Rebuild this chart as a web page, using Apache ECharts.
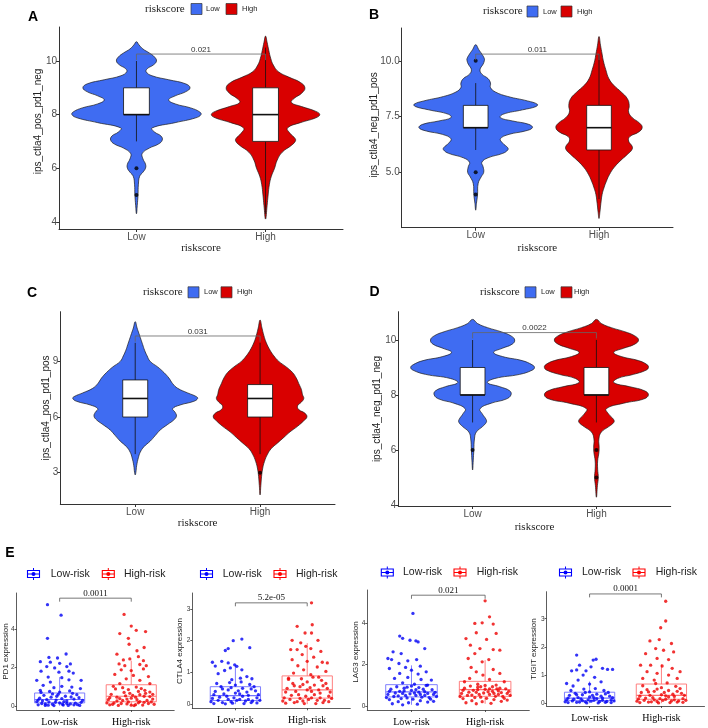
<!DOCTYPE html>
<html><head><meta charset="utf-8">
<script src="https://cdn.jsdelivr.net/npm/echarts@6/dist/echarts.min.js"></script>
<style>html,body{margin:0;padding:0;background:#fff}#c{width:708px;height:728px}</style>
</head><body><div id="c"></div><script>
// ---------------- DATA ----------------
const riskGroups = ['Low', 'High'];
const expGroups = ['Low-risk', 'High-risk'];
const panelLetters = ['A', 'B', 'C', 'D', 'E'];
const violinTitles = ['ips_ctla4_pos_pd1_neg', 'ips_ctla4_neg_pd1_pos', 'ips_ctla4_pos_pd1_pos', 'ips_ctla4_neg_pd1_neg'];
const expTitles = ['PD1 expression', 'CTLA4 expression', 'LAG3 expression', 'TIGIT expression'];

const aTicks = [4, 6, 8, 10];
const bTicks = [5, 7.5, 10];
const cTicks = [3, 6, 9];
const dTicks = [4, 6, 8, 10];
const e1Ticks = [0, 2, 4];
const e2Ticks = [0, 1, 2, 3];
const e3Ticks = [0, 2, 4];
const e4Ticks = [0, 1, 2, 3];

// violin profiles: [score, half-width in category units], bottom to top
const aLowViolin = [[4.3,0],[4.6,0.006],[5.0,0.012],[5.4,0.015],[5.7,0.025],[5.85,0.05],[6.0,0.07],[6.15,0.07],[6.35,0.05],[6.55,0.045],[6.75,0.1],[6.9,0.17],[7.05,0.2],[7.2,0.19],[7.35,0.14],[7.5,0.12],[7.7,0.3],[7.88,0.46],[8.0,0.5],[8.1,0.49],[8.25,0.42],[8.4,0.3],[8.55,0.25],[8.7,0.3],[8.85,0.38],[9.0,0.415],[9.15,0.38],[9.3,0.25],[9.45,0.12],[9.6,0.075],[9.72,0.085],[9.85,0.13],[10.0,0.155],[10.15,0.14],[10.3,0.1],[10.45,0.05],[10.6,0.02],[10.72,0]];
const aHighViolin = [[4.1,0],[4.6,0.012],[5.0,0.02],[5.4,0.03],[5.7,0.045],[6.0,0.07],[6.3,0.09],[6.6,0.13],[6.85,0.2],[7.0,0.23],[7.1,0.23],[7.3,0.19],[7.5,0.17],[7.7,0.27],[7.88,0.39],[8.0,0.42],[8.12,0.39],[8.3,0.28],[8.45,0.2],[8.6,0.22],[8.8,0.28],[9.0,0.305],[9.2,0.27],[9.4,0.18],[9.6,0.1],[9.85,0.06],[10.1,0.04],[10.4,0.025],[10.7,0.012],[10.93,0]];
const bLowViolin = [[3.3,0],[3.6,0.006],[4.0,0.015],[4.5,0.02],[4.8,0.045],[5.0,0.065],[5.25,0.06],[5.45,0.05],[5.65,0.1],[5.85,0.22],[6.0,0.26],[6.1,0.26],[6.3,0.22],[6.5,0.2],[6.7,0.27],[6.85,0.4],[7.0,0.46],[7.15,0.43],[7.3,0.3],[7.45,0.2],[7.6,0.22],[7.8,0.38],[7.95,0.49],[8.05,0.5],[8.2,0.42],[8.4,0.26],[8.6,0.16],[8.8,0.12],[9.0,0.12],[9.2,0.1],[9.4,0.05],[9.6,0.035],[9.85,0.06],[10.0,0.07],[10.1,0.07],[10.3,0.05],[10.5,0.025],[10.72,0]];
const bHighViolin = [[2.93,0],[3.2,0.007],[3.6,0.015],[4.0,0.025],[4.3,0.04],[4.6,0.06],[4.9,0.085],[5.2,0.12],[5.5,0.17],[5.8,0.23],[6.0,0.265],[6.15,0.27],[6.4,0.24],[6.6,0.25],[6.8,0.32],[7.0,0.35],[7.2,0.33],[7.45,0.27],[7.7,0.24],[8.0,0.245],[8.3,0.23],[8.6,0.18],[8.9,0.12],[9.2,0.08],[9.6,0.055],[10.0,0.035],[10.3,0.025],[10.7,0.012],[11.09,0]];
const cLowViolin = [[2.88,0],[3.0,0.005],[3.4,0.012],[3.8,0.025],[4.1,0.04],[4.4,0.07],[4.7,0.12],[5.0,0.16],[5.3,0.2],[5.6,0.26],[5.85,0.31],[6.05,0.33],[6.25,0.32],[6.45,0.3],[6.65,0.36],[6.85,0.47],[7.0,0.5],[7.1,0.49],[7.3,0.42],[7.55,0.34],[7.8,0.3],[8.1,0.27],[8.4,0.23],[8.7,0.18],[9.0,0.12],[9.3,0.095],[9.6,0.075],[9.9,0.06],[10.2,0.045],[10.5,0.03],[10.8,0.015],[11.14,0]];
const cHighViolin = [[1.8,0],[2.3,0.006],[2.8,0.012],[3.2,0.02],[3.6,0.035],[4.0,0.06],[4.3,0.09],[4.6,0.14],[4.9,0.19],[5.2,0.24],[5.5,0.3],[5.8,0.35],[6.0,0.375],[6.2,0.36],[6.4,0.31],[6.6,0.3],[6.8,0.33],[7.0,0.35],[7.2,0.34],[7.5,0.33],[7.8,0.31],[8.1,0.29],[8.4,0.26],[8.7,0.21],[9.0,0.15],[9.3,0.11],[9.6,0.08],[10.0,0.05],[10.4,0.03],[10.8,0.015],[11.23,0]];
const dLowViolin = [[5.27,0],[5.6,0.005],[6.0,0.01],[6.4,0.015],[6.65,0.03],[6.85,0.08],[7.0,0.11],[7.1,0.11],[7.3,0.08],[7.5,0.06],[7.7,0.15],[7.85,0.27],[8.0,0.31],[8.15,0.3],[8.3,0.22],[8.45,0.12],[8.6,0.18],[8.75,0.38],[8.9,0.48],[9.0,0.5],[9.1,0.48],[9.25,0.4],[9.4,0.24],[9.55,0.17],[9.7,0.24],[9.85,0.32],[10.0,0.34],[10.15,0.31],[10.3,0.23],[10.45,0.12],[10.6,0.04],[10.75,0]];
const dHighViolin = [[4.28,0],[4.7,0.008],[5.0,0.015],[5.3,0.01],[5.6,0.01],[5.9,0.02],[6.1,0.022],[6.4,0.02],[6.65,0.04],[6.85,0.1],[7.0,0.14],[7.1,0.14],[7.3,0.1],[7.5,0.08],[7.7,0.22],[7.85,0.38],[8.0,0.42],[8.15,0.39],[8.3,0.27],[8.45,0.14],[8.6,0.17],[8.75,0.3],[8.9,0.4],[9.0,0.42],[9.1,0.41],[9.25,0.34],[9.4,0.2],[9.55,0.14],[9.7,0.22],[9.85,0.31],[10.0,0.34],[10.15,0.31],[10.3,0.23],[10.45,0.12],[10.6,0.04],[10.75,0]];

// boxes: [lower whisker, q1, median, q3, upper whisker]
const aLowBox = [7, 8, 8, 9, 10];
const aHighBox = [4.3, 7, 8, 9, 10.5];
const bLowBox = [6, 7, 7, 8, 9];
const bHighBox = [3.8, 6, 7, 8, 10.3];
const cLowBox = [4, 6, 7, 8, 10];
const cHighBox = [4, 6, 7, 7.75, 10];
const dLowBox = [7, 8, 8, 9, 10];
const dHighBox = [7, 8, 8, 9, 10];

const aLowOutliers = [6, 5];
const aHighOutliers = [];
const bLowOutliers = [10, 5, 4];
const bHighOutliers = [];
const cLowOutliers = [];
const cHighOutliers = [3];
const dLowOutliers = [6];
const dHighOutliers = [6, 5];

const violinPValues = ['0.021', '0.011', '0.031', '0.0022'];
const violinBracketY = [10.26, 10.3, 10.37, 10.27];

const e1LowBox = [0, 0.155, 0.33, 0.67, 1.5];
const e1HighBox = [0, 0.21, 0.5, 1.1, 2.36];
const e2LowBox = [0, 0.115, 0.27, 0.55, 1.2];
const e2HighBox = [0, 0.19, 0.45, 0.89, 1.92];
const e3LowBox = [0.05, 0.43, 0.67, 1.02, 1.95];
const e3HighBox = [0.1, 0.46, 0.78, 1.18, 2.2];
const e4LowBox = [0, 0.09, 0.18, 0.39, 0.77];
const e4HighBox = [0, 0.14, 0.28, 0.68, 1.38];

const expPValues = ['0.0011', '5.2e-05', '0.021', '0.0001'];
const expBracketY = [5.63, 3.19, 5.33, 3.88];

// jittered points: [horizontal jitter, expression]
const e1LowPoints = [[-0.17,5.29],[0.02,4.74],[-0.17,3.53],[0.09,2.71],[-0.15,2.53],[-0.03,2.5],[-0.27,2.31],[-0.13,2.28],[0.0,2.22],[0.15,2.19],[-0.18,2.05],[-0.07,1.98],[0.1,2.05],[-0.26,1.81],[-0.01,1.76],[0.13,1.81],[0.19,1.71],[-0.16,1.5],[0.03,1.47],[-0.32,1.33],[-0.13,1.24],[0.13,1.36],[0.3,1.33],[-0.23,1.07],[0.03,1.02],[0.17,0.98],[-0.08,0.95],[0.29,0.9],[-0.27,0.81],
[-0.3,0.05],[-0.25,0.12],[-0.2,0.02],[-0.15,0.2],[-0.1,0.08],[-0.05,0.3],[0,0.15],[0.05,0.04],[0.1,0.25],[0.15,0.1],[0.2,0.35],[0.25,0.06],[0.3,0.18],[-0.28,0.4],[-0.22,0.55],[-0.12,0.45],[-0.02,0.6],[0.08,0.5],[0.18,0.65],[0.27,0.42],[-0.32,0.22],[-0.18,0.32],[-0.08,0.01],[0.03,0.38],[0.12,0.02],[0.22,0.14],[0.32,0.28],[-0.26,0.7],[-0.14,0.75],[0.0,0.72],[0.14,0.78],[0.24,0.58],[-0.06,0.18],[0.06,0.22],[-0.2,0.1],[0.2,0.05],[-0.3,0.3],[0.28,0.02],[-0.1,0.62],[0.1,0.12],[-0.16,0.03],[0.16,0.46],[-0.24,0.26],[0.04,0.08],[-0.04,0.5]];
const e1HighPoints = [[-0.1,4.78],[0.0,4.17],[0.07,3.95],[-0.16,3.78],[0.2,3.88],[-0.04,3.53],[-0.03,3.22],[0.18,3.05],[0.08,2.88],[-0.2,2.7],[0.1,2.57],[-0.11,2.4],[-0.02,2.45],[0.17,2.36],[-0.17,2.19],[-0.09,2.1],[0.12,2.16],[0.21,2.1],[-0.14,1.88],[0.0,1.84],[0.17,1.93],[-0.23,1.64],[0.03,1.59],[0.24,1.53],[-0.07,1.41],[0.12,1.33],[-0.16,1.16],[0.26,1.16],[-0.25,1.02],[0.07,0.98],[-0.04,0.85],[0.19,0.81],
[-0.3,0.05],[-0.24,0.15],[-0.18,0.02],[-0.12,0.28],[-0.06,0.1],[0,0.4],[0.06,0.06],[0.12,0.22],[0.18,0.5],[0.24,0.12],[0.3,0.35],[-0.28,0.6],[-0.2,0.45],[-0.1,0.7],[0.02,0.55],[0.1,0.75],[0.2,0.65],[0.28,0.2],[-0.32,0.32],[-0.16,0.38],[-0.04,0.2],[0.08,0.32],[0.16,0.04],[0.26,0.48],[-0.26,0.08],[-0.08,0.52],[0.04,0.01],[0.14,0.9],[0.32,0.08],[-0.22,0.88],[-0.14,0.12],[0.22,0.28],[-0.02,0.65],[0.1,0.16],[-0.3,0.42],[0.3,0.6],[-0.12,0.95],[0.0,0.03],[0.18,0.18],[-0.2,0.25],[0.06,0.45],[-0.06,0.35],[0.26,0.72],[-0.34,0.15],[0.12,0.58]];
const e2LowPoints = [[0.09,2.05],[-0.03,2.0],[-0.14,1.69],[-0.1,1.75],[0.2,1.78],[-0.19,1.35],[-0.1,1.3],[-0.01,1.24],[0.02,1.19],[-0.07,1.14],[0.09,1.08],[-0.15,1.06],[-0.24,0.96],[0.16,0.87],[0.07,0.82],[-0.05,0.77],[0.23,0.8],[-0.28,1.2],[-0.32,1.32],
[-0.3,0.02],[-0.24,0.12],[-0.18,0.05],[-0.12,0.25],[-0.06,0.08],[0,0.35],[0.06,0.15],[0.12,0.02],[0.18,0.28],[0.24,0.1],[0.3,0.2],[-0.28,0.4],[-0.2,0.55],[-0.1,0.45],[0,0.6],[0.1,0.5],[0.2,0.62],[0.28,0.42],[-0.32,0.18],[-0.16,0.32],[-0.04,0.03],[0.04,0.42],[0.14,0.1],[0.22,0.05],[0.32,0.3],[-0.26,0.65],[-0.08,0.68],[0.08,0.7],[0.26,0.55],[-0.22,0.22],[-0.14,0.01],[0.16,0.38],[-0.02,0.2],[0.02,0.12],[-0.3,0.3],[0.3,0.04],[-0.1,0.15],[0.1,0.25],[-0.18,0.48],[0.18,0.15],[-0.06,0.52],[0.06,0.32],[0.22,0.48],[-0.34,0.08],[0.34,0.12]];
const e2HighPoints = [[0.06,3.19],[-0.14,2.45],[0.07,2.5],[0.06,2.24],[-0.03,2.24],[-0.21,2.01],[-0.09,1.93],[0.15,2.01],[-0.02,1.82],[0.05,1.75],[-0.14,1.72],[0.19,1.66],[-0.07,1.56],[0.09,1.48],[-0.21,1.4],[0.0,1.35],[0.21,1.32],[-0.13,1.21],[0.14,1.17],[-0.05,1.08],[0.26,1.03],[-0.19,0.98],[0.05,0.93],[0.16,0.85],[-0.26,0.82],[0.28,1.3],[-0.23,1.72],
[-0.3,0.03],[-0.24,0.15],[-0.18,0.05],[-0.12,0.3],[-0.06,0.1],[0,0.45],[0.06,0.2],[0.12,0.02],[0.18,0.35],[0.24,0.12],[0.3,0.25],[-0.28,0.5],[-0.2,0.65],[-0.1,0.55],[0,0.7],[0.1,0.6],[0.2,0.75],[0.28,0.5],[-0.32,0.2],[-0.16,0.4],[-0.04,0.02],[0.04,0.52],[0.14,0.12],[0.22,0.05],[0.32,0.38],[-0.26,0.78],[-0.08,0.8],[0.08,0.85],[0.26,0.65],[-0.22,0.28],[-0.14,0.08],[0.16,0.45],[-0.02,0.25],[0.02,0.15],[-0.3,0.38],[0.3,0.08],[-0.1,0.18],[0.1,0.3],[-0.18,0.58],[0.18,0.2],[-0.06,0.62],[0.06,0.4],[0.22,0.58],[-0.34,0.1],[0.34,0.18]];
const e3LowPoints = [[0.02,4.45],[-0.16,3.36],[-0.12,3.25],[-0.02,3.16],[0.06,3.13],[0.09,3.08],[0.18,2.76],[-0.25,2.6],[-0.14,2.52],[-0.32,2.28],[-0.27,2.23],[-0.05,2.17],[0.07,2.23],[-0.17,2.04],[0.12,1.91],[-0.08,1.85],[-0.3,1.8],[0.0,1.72],[0.2,1.64],[-0.16,1.56],[0.09,1.53],[-0.23,1.32],[-0.05,1.37],[0.13,1.27],[0.27,1.24],[-0.12,1.11],[0.04,1.04],[0.22,1.0],
[-0.3,0.3],[-0.24,0.45],[-0.18,0.2],[-0.12,0.6],[-0.06,0.38],[0,0.75],[0.06,0.5],[0.12,0.25],[0.18,0.68],[0.24,0.4],[0.3,0.55],[-0.28,0.8],[-0.2,0.92],[-0.1,0.85],[0,0.95],[0.1,0.88],[0.2,0.98],[0.28,0.78],[-0.32,0.55],[-0.16,0.7],[-0.04,0.15],[0.04,0.62],[0.14,0.42],[0.22,0.18],[0.32,0.65],[-0.26,0.1],[-0.08,0.5],[0.08,0.08],[0.26,0.32],[-0.22,0.62],[-0.14,0.35],[0.16,0.8],[-0.02,0.58],[0.02,0.32],[-0.3,0.7],[0.3,0.22],[-0.1,0.72],[0.1,0.66],[-0.18,0.48],[0.18,0.5],[-0.06,0.9],[0.06,0.78],[0.22,0.6],[-0.34,0.4],[0.34,0.45],[-0.12,0.05],[0.12,0.55]];
const e3HighPoints = [[0.0,5.06],[0.06,4.29],[-0.14,3.97],[-0.04,4.0],[0.11,3.94],[0.15,3.49],[-0.12,3.52],[-0.26,3.24],[0.02,3.2],[-0.2,2.92],[-0.07,2.76],[0.11,2.71],[0.2,2.68],[-0.14,2.52],[-0.23,2.28],[0.05,2.23],[-0.04,2.12],[-0.19,1.85],[0.11,1.75],[-0.12,1.64],[0.2,1.56],[-0.03,1.48],[-0.21,1.32],[0.06,1.27],[-0.28,1.16],[0.26,1.16],[-0.1,1.04],[0.15,1.0],
[-0.3,0.35],[-0.24,0.5],[-0.18,0.25],[-0.12,0.65],[-0.06,0.42],[0,0.8],[0.06,0.55],[0.12,0.3],[0.18,0.72],[0.24,0.45],[0.3,0.6],[-0.28,0.85],[-0.2,0.95],[-0.1,0.9],[0,0.98],[0.1,0.92],[0.2,0.85],[0.28,0.82],[-0.32,0.6],[-0.16,0.75],[-0.04,0.2],[0.04,0.68],[0.14,0.46],[0.22,0.22],[0.32,0.7],[-0.26,0.15],[-0.08,0.55],[0.08,0.12],[0.26,0.36],[-0.22,0.66],[-0.14,0.4],[0.16,0.82],[-0.02,0.62],[0.02,0.36],[-0.3,0.75],[0.3,0.28],[-0.1,0.78],[0.1,0.7],[-0.18,0.52],[0.18,0.55],[-0.06,0.92],[0.06,0.82],[0.22,0.64],[-0.34,0.45],[0.34,0.5],[-0.12,0.1],[0.12,0.6]];
const e4LowPoints = [[-0.18,1.71],[0.09,1.56],[0.05,1.53],[-0.14,1.35],[0.02,1.29],[0.18,1.24],[0.25,1.2],[-0.18,1.18],[-0.05,1.15],[-0.09,1.0],[0.07,0.92],[-0.16,0.82],[0.16,0.76],[0.0,0.68],[-0.23,0.61],[-0.32,0.7],[-0.25,1.15],[0.32,1.2],
[-0.3,0.02],[-0.24,0.08],[-0.18,0.03],[-0.12,0.15],[-0.06,0.05],[0,0.22],[0.06,0.1],[0.12,0.01],[0.18,0.18],[0.24,0.06],[0.3,0.12],[-0.28,0.28],[-0.2,0.35],[-0.1,0.3],[0,0.4],[0.1,0.32],[0.2,0.45],[0.28,0.25],[-0.32,0.12],[-0.16,0.2],[-0.04,0.01],[0.04,0.28],[0.14,0.06],[0.22,0.03],[0.32,0.2],[-0.26,0.45],[-0.08,0.5],[0.08,0.52],[0.26,0.38],[-0.22,0.14],[-0.14,0.04],[0.16,0.25],[-0.02,0.12],[0.02,0.07],[-0.3,0.18],[0.3,0.02],[-0.1,0.09],[0.1,0.16],[-0.18,0.3],[0.18,0.1],[-0.06,0.38],[0.06,0.2],[0.22,0.33],[-0.34,0.05],[0.34,0.08]];
const e4HighPoints = [[0.06,3.62],[0.06,2.92],[-0.01,2.68],[-0.16,2.21],[-0.03,2.26],[0.14,2.12],[-0.08,1.94],[0.03,1.88],[0.17,1.82],[-0.22,1.76],[-0.06,1.59],[0.1,1.55],[-0.15,1.35],[0.01,1.32],[0.15,1.24],[-0.2,1.12],[-0.06,1.06],[0.1,1.0],[-0.26,0.88],[0.22,0.88],[-0.1,0.82],[0.26,1.12],[-0.29,1.35],
[-0.3,0.02],[-0.24,0.1],[-0.18,0.04],[-0.12,0.2],[-0.06,0.06],[0,0.3],[0.06,0.14],[0.12,0.02],[0.18,0.24],[0.24,0.08],[0.3,0.16],[-0.28,0.38],[-0.2,0.48],[-0.1,0.42],[0,0.55],[0.1,0.45],[0.2,0.6],[0.28,0.35],[-0.32,0.15],[-0.16,0.28],[-0.04,0.01],[0.04,0.38],[0.14,0.08],[0.22,0.04],[0.32,0.28],[-0.26,0.62],[-0.08,0.7],[0.08,0.72],[0.26,0.52],[-0.22,0.18],[-0.14,0.05],[0.16,0.32],[-0.02,0.16],[0.02,0.1],[-0.3,0.25],[0.3,0.03],[-0.1,0.12],[0.1,0.22],[-0.18,0.4],[0.18,0.12],[-0.06,0.5],[0.06,0.26],[0.22,0.42],[-0.34,0.07],[0.34,0.1]];

// ---------------- LAYOUT / STYLE ----------------
const SANS = 'Liberation Sans', SERIF = 'Liberation Serif';
const LOW_FILL = '#3F6CF2', HIGH_FILL = '#D90000';
const violinLayout = [
  {left:59, top:27, width:284, height:202, ymin:3.73, ymax:11.27, ticks:aTicks, dec:0, yTitle:[38.5,121.5], xGap:13,
   prof:[aLowViolin,aHighViolin], box:[aLowBox,aHighBox], out:[aLowOutliers,aHighOutliers], leg:{x:145,y:9,r1:191,r2:226,t1:206,t2:242}, letter:[33,17]},
  {left:401.7, top:28, width:271.3, height:199.7, ymin:2.515, ymax:11.47, ticks:bTicks, dec:1, yTitle:[374.3,125], xGap:14.5,
   prof:[bLowViolin,bHighViolin], box:[bLowBox,bHighBox], out:[bLowOutliers,bHighOutliers], leg:{x:483,y:11.5,r1:527,r2:561,t1:543,t2:577}, letter:[374,15]},
  {left:60.3, top:311.7, width:274.7, height:192.3, ymin:1.31, ymax:11.68, ticks:cTicks, dec:0, yTitle:[46.7,408], xGap:12.5,
   prof:[cLowViolin,cHighViolin], box:[cLowBox,cHighBox], out:[cLowOutliers,cHighOutliers], leg:{x:143,y:292.3,r1:188,r2:221,t1:204,t2:237}, letter:[32,293]},
  {left:398.3, top:311.7, width:272.4, height:194.3, ymin:3.96, ymax:11.03, ticks:dTicks, dec:0, yTitle:[377.7,409], xGap:16,
   prof:[dLowViolin,dHighViolin], box:[dLowBox,dHighBox], out:[dLowOutliers,dHighOutliers], leg:{x:480,y:292.3,r1:525,r2:561,t1:541,t2:574}, letter:[374.5,292.5]}
];
const expLayout = [
  {left:16.7, top:593, width:157.5, height:117, ymin:-0.22, ymax:5.9, ticks:e1Ticks, yTitle:[5.5,651.5], box:[e1LowBox,e1HighBox], pts:[e1LowPoints,e1HighPoints], leg:{y:574,i1:33.5,t1:50.7,i2:108.3,t2:124}},
  {left:192.3, top:593, width:158, height:115.3, ymin:-0.13, ymax:3.5, ticks:e2Ticks, yTitle:[180,651], box:[e2LowBox,e2HighBox], pts:[e2LowPoints,e2HighPoints], leg:{y:574,i1:206.5,t1:222.7,i2:280,t2:296}},
  {left:367.3, top:590, width:162, height:120, ymin:-0.2, ymax:5.58, ticks:e3Ticks, yTitle:[356,652], box:[e3LowBox,e3HighBox], pts:[e3LowPoints,e3HighPoints], leg:{y:572.5,i1:387.3,t1:403,i2:460,t2:476.7}},
  {left:546.5, top:591.7, width:158, height:114.3, ymin:-0.1, ymax:3.96, ticks:e4Ticks, yTitle:[534,649], box:[e4LowBox,e4HighBox], pts:[e4LowPoints,e4HighPoints], leg:{y:572.5,i1:565.5,t1:582,i2:639,t2:655.7}}
];

// ---------------- BUILD ----------------
const grids = [], xAxes = [], yAxes = [], series = [], graphics = [];

function violinSeries(ai, x, prof, color, name) {
  return {type:'custom', name, xAxisIndex:ai, yAxisIndex:ai, data:[[x, prof[0][0]]], z:2, silent:true, clip:false,
    renderItem:(p, api) => {
      const right = prof.map(q => api.coord([x + q[1], q[0]]));
      const left = prof.slice(1, -1).reverse().map(q => api.coord([x - q[1], q[0]]));
      return {type:'polygon', shape:{points:right.concat(left), smooth:0.45}, style:{fill:color, stroke:'#1a1a1a', lineWidth:0.7}};
    }};
}
function boxSeries(ai, x, b, hw, stroke, fill, lw, mw, name, z) {
  return {type:'custom', name, xAxisIndex:ai, yAxisIndex:ai, data:[[x].concat(b)], z, silent:true, clip:false,
    renderItem:(p, api) => {
      const [lo, q1, md, q3, hi] = b;
      const pLo = api.coord([x, lo]), pQ1 = api.coord([x, q1]), pQ3 = api.coord([x, q3]), pHi = api.coord([x, hi]);
      const tl = api.coord([x - hw, q3]), br = api.coord([x + hw, q1]);
      const ml = api.coord([x - hw, md]), mr = api.coord([x + hw, md]);
      return {type:'group', children:[
        {type:'line', shape:{x1:pLo[0], y1:pLo[1], x2:pQ1[0], y2:pQ1[1]}, style:{stroke, lineWidth:lw}},
        {type:'line', shape:{x1:pQ3[0], y1:pQ3[1], x2:pHi[0], y2:pHi[1]}, style:{stroke, lineWidth:lw}},
        {type:'rect', shape:{x:tl[0], y:tl[1], width:br[0]-tl[0], height:br[1]-tl[1]}, style:{fill, stroke, lineWidth:lw}},
        {type:'line', shape:{x1:ml[0], y1:ml[1], x2:mr[0], y2:mr[1]}, style:{stroke, lineWidth:mw}}
      ]};
    }};
}
function bracketSeries(ai, yv, tip, text, font, color, lineColor) {
  return {type:'custom', xAxisIndex:ai, yAxisIndex:ai, data:[[1.5, yv]], z:6, silent:true, clip:false,
    renderItem:(p, api) => {
      const a = api.coord([1, yv - tip]), b = api.coord([1, yv]), c = api.coord([2, yv]), d = api.coord([2, yv - tip]);
      const m = api.coord([1.5, yv]);
      return {type:'group', children:[
        {type:'polyline', shape:{points:[a, b, c, d]}, style:{stroke:lineColor, lineWidth:0.8, fill:null}},
        {type:'text', x:m[0], y:m[1] - 0.5, style:{text, font, fill:color, align:'center', verticalAlign:'bottom'}}
      ]};
    }};
}
function gtext(x, y, text, font, fill, align, rotation) {
  graphics.push({type:'text', x, y, rotation:rotation || 0, silent:true, style:{text, font, fill, align:align || 'left', verticalAlign:'middle'}});
}

violinLayout.forEach((L, i) => {
  grids.push({left:L.left, top:L.top, width:L.width, height:L.height});
  xAxes.push({gridIndex:i, type:'value', min:0.4, max:2.6,
    axisLine:{show:true, onZero:false, lineStyle:{color:'#333', width:1}},
    axisTick:{show:true, customValues:[1,2], length:3, lineStyle:{color:'#333'}},
    axisLabel:{customValues:[1,2], formatter:v => riskGroups[Math.round(v) - 1], color:'#4d4d4d', fontSize:10, fontFamily:SANS, margin:3},
    splitLine:{show:false}, name:'riskscore', nameLocation:'middle', nameGap:L.xGap,
    nameTextStyle:{fontFamily:SERIF, fontSize:11, color:'#1a1a1a', verticalAlign:'top'}});
  yAxes.push({gridIndex:i, type:'value', min:L.ymin, max:L.ymax,
    axisLine:{show:true, onZero:false, lineStyle:{color:'#333', width:1}},
    axisTick:{show:true, customValues:L.ticks, length:3, lineStyle:{color:'#333'}},
    axisLabel:{customValues:L.ticks, formatter:v => v.toFixed(L.dec), color:'#4d4d4d', fontSize:10, fontFamily:SANS, margin:2},
    splitLine:{show:false}});
  gtext(L.yTitle[0], L.yTitle[1], violinTitles[i], '10px ' + SANS, '#222', 'center', Math.PI / 2);
  [0, 1].forEach(g => {
    const x = g + 1;
    series.push(violinSeries(i, x, L.prof[g], g ? HIGH_FILL : LOW_FILL, riskGroups[g]));
    series.push(boxSeries(i, x, L.box[g], 0.1, '#111', '#fff', 0.8, 1.6, riskGroups[g], 3));
    if (L.out[g].length) series.push({type:'scatter', xAxisIndex:i, yAxisIndex:i, silent:true, z:4, symbolSize:4,
      itemStyle:{color:'#000'}, data:L.out[g].map(v => [x, v])});
  });
  series.push(bracketSeries(i, violinBracketY[i], 0.03 * (L.ymax - L.ymin), violinPValues[i], '8px ' + SANS, '#333', '#666'));
  const lg = L.leg;
  gtext(lg.x, lg.y, 'riskscore', '11px ' + SERIF, '#1a1a1a');
  graphics.push({type:'rect', silent:true, shape:{x:lg.r1, y:lg.y - 5.5, width:11, height:11}, style:{fill:LOW_FILL, stroke:'#333', lineWidth:0.7}});
  graphics.push({type:'rect', silent:true, shape:{x:lg.r2, y:lg.y - 5.5, width:11, height:11}, style:{fill:HIGH_FILL, stroke:'#333', lineWidth:0.7}});
  gtext(lg.t1, lg.y, riskGroups[0], '7.5px ' + SANS, '#222');
  gtext(lg.t2, lg.y, riskGroups[1], '7.5px ' + SANS, '#222');
  gtext(L.letter[0], L.letter[1], panelLetters[i], 'bold 14px ' + SANS, '#000', 'center');
});
gtext(10, 553, panelLetters[4], 'bold 14px ' + SANS, '#000', 'center');

const EXP_BOX = ['#7272FF', '#FF7272'], EXP_PT = ['#0000F5', '#EE0000'], EXP_LEG = ['#0000FF', '#FF0000'];
function legendIcon(cx, cy, color) {
  graphics.push({type:'group', silent:true, children:[
    {type:'line', shape:{x1:cx, y1:cy - 6, x2:cx, y2:cy + 6}, style:{stroke:color, lineWidth:1}},
    {type:'rect', shape:{x:cx - 6, y:cy - 3.5, width:12, height:7}, style:{fill:'#fff', stroke:color, lineWidth:1.1}},
    {type:'line', shape:{x1:cx - 6, y1:cy, x2:cx + 6, y2:cy}, style:{stroke:color, lineWidth:1}},
    {type:'circle', shape:{cx, cy, r:2}, style:{fill:color}}
  ]});
}
expLayout.forEach((L, j) => {
  const i = 4 + j;
  grids.push({left:L.left, top:L.top, width:L.width, height:L.height});
  xAxes.push({gridIndex:i, type:'value', min:0.4, max:2.6,
    axisLine:{show:true, onZero:false, lineStyle:{color:'#333', width:0.8}},
    axisTick:{show:true, customValues:[1,2], length:2, lineStyle:{color:'#333', width:0.8}},
    axisLabel:{customValues:[1,2], formatter:v => expGroups[Math.round(v) - 1], color:'#000', fontSize:10, fontFamily:SERIF, margin:7},
    splitLine:{show:false}});
  yAxes.push({gridIndex:i, type:'value', min:L.ymin, max:L.ymax,
    axisLine:{show:true, onZero:false, lineStyle:{color:'#333', width:0.8}},
    axisTick:{show:true, customValues:L.ticks, length:2, lineStyle:{color:'#333', width:0.8}},
    axisLabel:{customValues:L.ticks, formatter:v => String(v), color:'#333', fontSize:6.5, fontFamily:SANS, margin:2},
    splitLine:{show:false}});
  gtext(L.yTitle[0], L.yTitle[1], expTitles[j], '8px ' + SANS, '#222', 'center', Math.PI / 2);
  [0, 1].forEach(g => {
    const x = g + 1;
    series.push(boxSeries(i, x, L.box[g], 0.35, EXP_BOX[g], 'rgba(255,255,255,0)', 0.9, 1.2, expGroups[g], 3));
    series.push({type:'scatter', name:expGroups[g], xAxisIndex:i, yAxisIndex:i, silent:true, z:4, symbolSize:3.3,
      itemStyle:{color:EXP_PT[g]}, data:L.pts[g].map(q => [x + q[0], q[1]])});
  });
  series.push(bracketSeries(i, expBracketY[j], 0.03 * (L.ymax - L.ymin), expPValues[j], '9px ' + SERIF, '#111', '#555'));
  const lg = L.leg;
  legendIcon(lg.i1, lg.y, EXP_LEG[0]);
  legendIcon(lg.i2, lg.y, EXP_LEG[1]);
  gtext(lg.t1, lg.y, expGroups[0], '10.5px ' + SANS, '#222');
  gtext(lg.t2, lg.y, expGroups[1], '10.5px ' + SANS, '#222');
});

const chart = echarts.init(document.getElementById('c'));
chart.setOption({animation:false, backgroundColor:'#fff', grid:grids, xAxis:xAxes, yAxis:yAxes, series, graphic:graphics});
</script></body></html>
